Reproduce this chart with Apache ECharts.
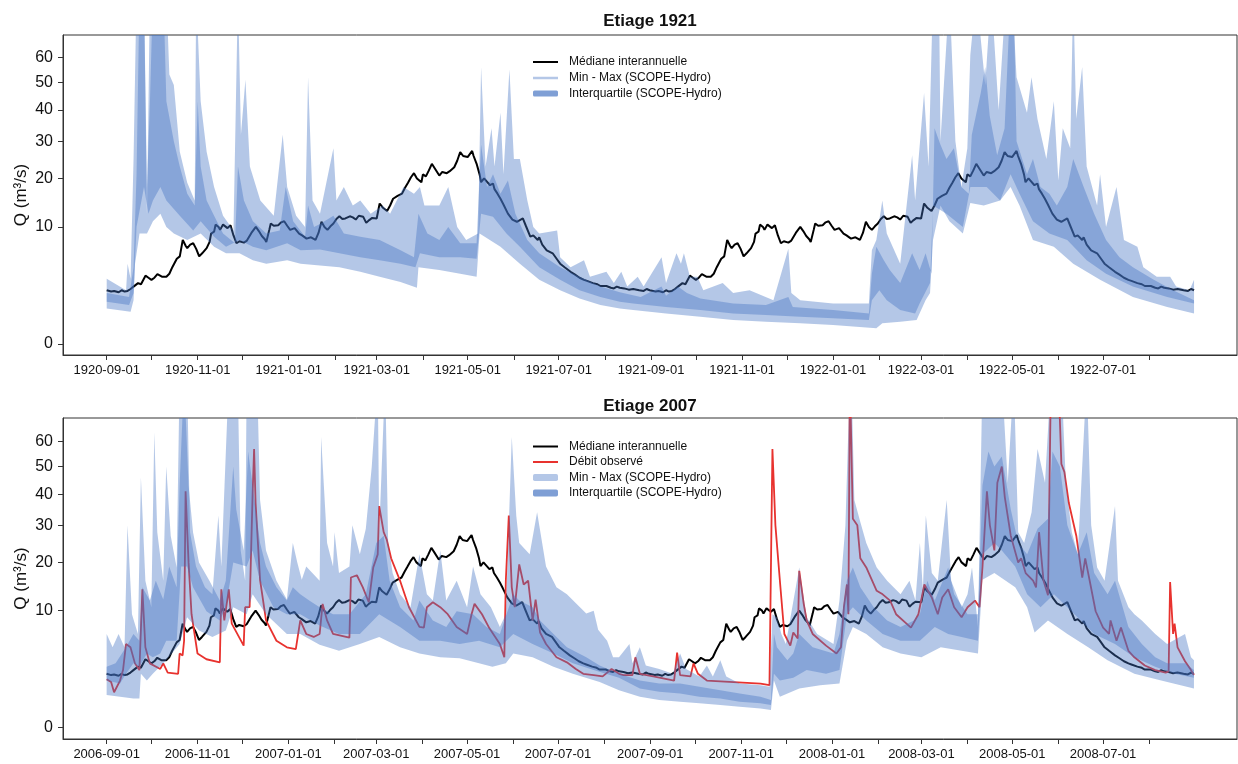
<!DOCTYPE html>
<html>
<head>
<meta charset="utf-8">
<script src="https://cdn.jsdelivr.net/npm/echarts@6/dist/echarts.min.js"></script>
<style>
html,body{margin:0;padding:0;background:#fff;}
#chart{width:1238px;height:764px;}
</style>
</head>
<body>
<div id="chart"></div>
<script>
// ---------------- DATA (day index from panel start date, value in m3/s) ----------------
const panelTitles = ['Etiage 1921', 'Etiage 2007'];
const panelStarts = ['1920-09-01', '2006-09-01'];
const xLabelsTop = ['1920-09-01','1920-11-01','1921-01-01','1921-03-01','1921-05-01','1921-07-01','1921-09-01','1921-11-01','1922-01-01','1922-03-01','1922-05-01','1922-07-01'];
const xLabelsBottom = ['2006-09-01','2006-11-01','2007-01-01','2007-03-01','2007-05-01','2007-07-01','2007-09-01','2007-11-01','2008-01-01','2008-03-01','2008-05-01','2008-07-01'];
const yTickValues = [0, 10, 20, 30, 40, 50, 60];

// Interannual median by day from 1 September (same for both panels)
const medianDOY = [[0,2.1],[3,2.0],[5,2.05],[8,1.95],[10,2.1],[12,2.0],[14,2.05],[16,2.2],[18,2.4],[21,2.7],[23,2.6],[26,3.4],[28,3.2],[30,3.0],[32,3.2],[34,3.55],[37,3.3],[40,3.3],[42,3.6],[44,4.3],[47,5.3],[49,5.6],[51,7.9],[53,7.0],[54,6.7],[56,7.2],[58,7.4],[60,6.6],[62,5.6],[64,6.0],[67,6.7],[69,7.6],[70,8.9],[72,9.2],[73,10.4],[75,10.0],[76,9.5],[78,10.4],[79,10.6],[81,9.8],[83,10.3],[85,8.6],[87,7.4],[89,7.7],[90,7.9],[92,7.5],[94,7.8],[97,9.0],[100,10.0],[102,9.3],[104,8.5],[106,8.0],[107,7.6],[109,9.5],[110,10.6],[112,10.2],[115,10.3],[117,10.8],[119,11.0],[121,10.2],[123,9.5],[126,9.8],[129,8.9],[131,8.6],[134,8.1],[137,8.3],[140,7.9],[142,9.0],[144,10.9],[146,10.0],[148,9.5],[150,10.1],[152,10.6],[154,11.4],[156,11.9],[158,11.4],[160,11.5],[163,11.9],[165,11.7],[167,11.3],[169,12.0],[172,11.8],[174,10.7],[176,11.2],[178,11.6],[181,11.5],[183,14.4],[185,13.6],[188,12.9],[190,14.0],[192,15.4],[195,16.0],[198,16.5],[200,17.8],[202,19.0],[204,20.3],[206,21.3],[208,20.0],[209,19.8],[211,19.1],[212,21.0],[214,20.5],[216,22.0],[218,23.7],[220,22.5],[223,20.7],[225,21.6],[228,21.3],[230,21.8],[233,22.8],[235,24.5],[237,26.9],[239,25.8],[240,26.3],[242,25.5],[245,27.2],[246,25.8],[248,23.7],[250,21.0],[251,19.1],[253,20.0],[254,19.6],[257,18.4],[259,18.8],[260,17.5],[262,16.5],[264,15.4],[266,14.2],[269,12.4],[272,11.3],[275,10.9],[277,11.2],[279,11.5],[281,10.2],[284,8.4],[286,8.6],[289,7.9],[290,8.3],[292,7.2],[295,6.4],[297,6.2],[299,6.0],[302,5.2],[304,4.7],[307,4.3],[311,3.8],[314,3.5],[317,3.2],[320,3.0],[322,2.9],[326,2.7],[329,2.6],[331,2.45],[335,2.45],[338,2.3],[340,2.25],[342,2.4],[344,2.3],[347,2.25],[350,2.15],[353,2.2],[357,2.1],[360,2.05],[362,2.2],[364,2.1]];

// Top panel (1920-09-01 .. 1922-08-31) SCOPE-Hydro envelope
const topMax = [[0,3.1],[13,2.1],[14,4.7],[16,3.1],[18,25],[20,90],[25,90],[27,12.4],[29,90],[40,90],[42,53],[45,49],[49,27],[54,19],[59,15],[60,90],[63,43],[67,27],[72,18],[78,12],[85,9.4],[88,90],[90,32],[93,51],[96,23],[103,15],[112,12],[118,32],[121,18],[127,12],[133,10],[135,52],[138,15],[143,12.4],[152,28],[154,15],[159,18],[165,14],[170,15],[177,12.4],[185,14],[190,12.4],[199,18],[206,16.5],[210,18],[213,14],[223,14],[229,18],[235,10],[241,7.9],[249,8.9],[251,56],[254,23],[258,34],[260,23],[264,39],[266,21],[270,55],[273,25],[277,25],[282,15],[286,10],[290,8.9],[302,9.4],[304,5.5],[311,4.3],[320,5.1],[324,3.3],[335,3.8],[340,2.7],[345,3.8],[349,2.4],[356,3.3],[360,2.4],[372,5.5],[375,2.7],[382,6.0],[385,4.7],[387,6.0],[391,3.3],[396,3.3],[400,2.1],[413,2.7],[420,1.9],[431,2.1],[447,1.4],[457,6.6],[459,1.9],[465,1.4],[487,1.2],[511,1.2],[513,6.4],[516,7.9],[520,15],[523,8.9],[532,4.7],[540,26],[542,15],[548,46],[551,23],[554,90],[558,90],[559,30],[565,90],[569,30],[573,18],[577,28],[579,61],[583,90],[589,49],[593,90],[598,40],[603,90],[607,90],[610,52],[617,39],[620,52],[624,37],[630,25],[635,43],[638,19.5],[641,34],[646,28],[648,90],[650,37],[654,56],[657,23],[664,14],[666,21],[670,10],[677,18],[682,7.9],[691,6.9],[695,4.3],[704,3.3],[713,3.3],[717,2.4],[726,2.1],[729,3.0]];
const topQ75 = [[0,1.9],[15,1.6],[18,4.3],[20,21],[22,90],[25,90],[27,18],[29,43],[31,90],[38,90],[40,43],[45,30],[49,23],[54,16.5],[59,14],[61,43],[63,23],[67,15],[72,12],[78,8.9],[86,7.4],[88,23],[92,15],[98,11],[107,8.9],[116,9.4],[120,18],[125,11],[133,8.4],[135,14],[139,10],[143,10.5],[152,12],[159,8.9],[170,8.4],[183,7.9],[197,6.4],[206,5.5],[209,12.4],[215,8.9],[223,7.9],[229,10],[237,7.4],[248,7.4],[251,29],[255,18],[259,21],[264,16.5],[269,19.5],[274,12.4],[282,7.9],[290,6.0],[304,4.3],[317,3.3],[331,2.4],[344,1.95],[358,1.6],[372,2.4],[375,1.7],[383,2.4],[389,1.9],[398,1.5],[420,1.2],[442,1.1],[457,1.6],[460,1.0],[487,0.84],[511,0.68],[513,3.6],[516,6.9],[521,5.1],[525,4.0],[532,2.7],[540,6.0],[545,4.0],[549,6.0],[553,3.6],[555,34],[559,29],[563,25],[568,28],[573,18],[578,16.5],[580,32],[586,46],[589,56],[592,38],[597,26],[602,34],[606,90],[608,90],[610,30],[617,21],[621,25],[626,18],[632,16.5],[637,14],[644,18],[648,25],[655,18],[662,12.4],[670,7.9],[679,5.5],[688,4.3],[702,3.0],[715,2.1],[729,1.4]];
const topQ25 = [[0,1.3],[15,1.1],[18,1.9],[20,10],[25,18],[28,12.4],[31,15],[36,18],[40,15],[49,12],[58,9.4],[63,11],[72,8.4],[80,6.9],[89,7.9],[98,6.9],[107,6.4],[121,7.4],[130,6.4],[143,6.5],[156,6.0],[170,5.5],[183,5.1],[197,4.7],[207,4.3],[210,6.0],[223,5.5],[237,5.5],[248,5.3],[251,12.4],[259,11.8],[268,8.9],[277,6.9],[290,4.3],[304,3.0],[317,2.1],[331,1.6],[344,1.3],[353,1.2],[375,1.0],[398,0.84],[420,0.68],[442,0.61],[465,0.54],[487,0.48],[511,0.42],[513,1.4],[518,2.1],[523,1.4],[532,0.84],[542,0.68],[545,1.2],[552,2.7],[554,14],[563,12.4],[574,10],[579,18],[590,18],[599,15],[606,21],[612,16.5],[621,11],[632,8.9],[644,7.9],[657,5.1],[670,3.6],[688,2.4],[711,1.6],[729,1.2]];
const topMin = [[0,0.92],[16,0.76],[18,1.4],[19,4.7],[22,8.9],[27,8.9],[31,11],[36,12.4],[40,10],[45,8.9],[54,7.9],[63,8.9],[72,6.9],[80,6.0],[89,6.0],[98,5.1],[107,4.7],[121,5.1],[130,4.7],[143,4.5],[156,4.3],[170,3.8],[183,3.3],[197,2.8],[208,2.3],[209,4.3],[223,4.0],[237,3.6],[248,3.3],[250,8.9],[264,6.9],[277,4.7],[290,3.0],[304,2.1],[317,1.5],[331,1.1],[344,0.92],[353,0.84],[375,0.68],[398,0.54],[420,0.42],[442,0.36],[465,0.31],[487,0.26],[516,0.18],[520,0.31],[532,0.36],[543,0.42],[549,1.4],[552,1.9],[554,7.9],[559,14],[565,11],[574,8.9],[579,14.5],[588,14],[599,15],[606,18],[612,14],[621,7.9],[635,6.9],[648,4.7],[666,3.0],[688,1.6],[711,1.0],[729,0.68]];

// Bottom panel (2006-09-01 .. 2008-08-31)
const botObserved = [[0,1.7],[3,1.5],[5,0.9],[9,1.6],[11,2.4],[13,5.1],[16,4.7],[19,3.0],[22,2.4],[24,14],[26,4.7],[29,3.0],[36,2.5],[38,3.0],[41,2.2],[48,2.1],[49,4.0],[51,3.8],[52,5.5],[53,41],[55,20],[57,9.4],[61,4.0],[67,3.4],[76,3.1],[77,14],[79,8.4],[82,14],[84,7.9],[92,4.9],[93,10.6],[96,10.6],[98,40],[99,57],[100,37],[103,16],[107,8.4],[114,5.5],[121,4.7],[127,4.5],[130,8.4],[134,6.4],[139,6.0],[143,6.4],[145,11.2],[148,8.4],[152,6.4],[163,5.9],[164,16.5],[168,17],[172,14.4],[176,11.5],[177,11.5],[179,18.8],[182,22],[183,36],[186,28],[188,26],[191,21],[197,15.8],[203,10.6],[210,7.4],[213,7.3],[215,10.6],[219,11.5],[224,10.6],[229,9.4],[235,7.4],[242,6.4],[245,9.4],[247,11.2],[252,9.4],[257,7.2],[264,5.1],[267,3.6],[268,15.8],[270,33],[272,14.4],[274,10.6],[277,19.5],[280,15],[283,15.8],[286,8.4],[288,12],[291,6.6],[295,5.1],[302,3.6],[309,3.1],[315,2.5],[320,2.1],[327,2.0],[333,1.9],[339,2.5],[344,2.1],[347,2.0],[353,2.0],[355,3.6],[358,2.1],[367,1.9],[381,1.6],[383,4.1],[385,2.0],[392,1.9],[394,3.0],[397,2.1],[403,1.6],[421,1.5],[439,1.4],[445,1.3],[447,57],[449,30],[452,15.8],[455,6.4],[459,4.9],[461,6.6],[464,5.8],[465,18],[468,11.2],[470,8.4],[474,6.4],[483,4.9],[490,4.0],[493,4.7],[495,10.6],[497,15],[498,9.4],[499,90],[500,90],[501,32],[504,30],[506,21],[510,18.8],[517,13.7],[521,13],[526,11.8],[530,9.4],[537,7.9],[540,7.3],[545,9.4],[549,15],[554,12.4],[558,9.4],[561,12.4],[565,14],[569,10.6],[574,8.9],[578,10.6],[583,11.8],[586,10.6],[588,18.8],[591,41],[593,30],[596,23],[598,44],[601,50],[603,39],[607,27],[612,20],[614,21],[617,17.5],[622,15.8],[624,14.4],[626,28],[629,15.8],[632,12.8],[634,90],[639,90],[641,51],[643,48],[646,37],[651,27],[655,16.5],[657,21],[660,15.8],[664,9.9],[669,7.3],[673,6.4],[674,8.4],[678,5.5],[681,7.3],[686,4.3],[690,3.6],[697,2.8],[704,2.4],[711,2.2],[713,2.3],[714,15.5],[716,6.4],[717,7.9],[719,4.7],[724,3.2],[728,2.4],[730,2.0]];
const botMax = [[0,6.4],[4,4.7],[8,6.4],[12,4.7],[14,30],[17,9.4],[21,6.4],[23,46],[26,15.8],[30,10.6],[32,64],[34,28],[38,15.8],[40,50],[43,27],[47,18.8],[49,90],[54,90],[56,28],[60,19],[66,14.4],[71,13],[75,33],[77,19],[82,90],[88,90],[90,23],[93,15.8],[94,90],[101,90],[103,38],[107,23],[114,15.8],[121,12],[125,25],[128,20],[131,16],[134,19],[143,15.8],[144,62],[148,25],[152,19],[153,28],[156,17.5],[163,19],[165,30],[170,22],[174,29],[178,50],[182,90],[183,28],[187,90],[189,25],[192,17.5],[197,13],[204,10.6],[210,22],[215,13],[219,11.8],[224,23],[228,11.8],[235,15.8],[242,10.6],[246,19],[251,13],[258,10.6],[264,7.4],[268,9.4],[272,62],[275,33],[277,25],[284,22],[289,34],[295,19],[302,14.4],[309,13],[322,9.5],[327,10],[330,7],[336,5.5],[340,3.6],[344,3.6],[351,5.1],[353,3.0],[358,4.7],[362,2.8],[371,2.5],[380,2.1],[385,4.0],[389,2.5],[398,1.9],[403,2.8],[407,1.9],[412,3.3],[416,1.9],[425,1.4],[439,1.3],[445,1.2],[447,9.4],[450,8.9],[453,6.4],[456,5.1],[465,18.8],[470,8.9],[477,6.4],[488,5.1],[492,11.8],[496,30],[499,90],[500,90],[502,38],[506,31],[510,25],[517,18.8],[524,15.8],[533,13],[539,15.8],[543,11.8],[546,25],[548,14],[550,33],[554,17.5],[558,15.8],[564,38],[567,15.8],[574,10.6],[578,13],[581,18.8],[585,7.4],[588,90],[601,90],[605,44],[609,90],[612,28],[616,25],[621,34],[625,57],[630,44],[634,90],[641,90],[644,44],[648,28],[652,22],[658,90],[661,30],[665,18.8],[670,15.8],[677,36],[679,15.8],[686,10.6],[690,9.4],[695,8.4],[704,6.4],[712,5.1],[724,6.4],[728,3.6],[730,3.3]];
const botQ75 = [[0,2.7],[6,3.0],[13,4.7],[18,6.4],[22,5.5],[24,14.4],[29,11.8],[33,15.8],[38,12],[42,19],[47,14.4],[49,43],[52,90],[55,43],[58,28],[62,20],[69,15.8],[76,11.8],[80,15.8],[85,50],[87,35],[92,23],[95,56],[98,43],[103,25],[107,19],[114,14.4],[121,11.8],[125,14.4],[130,13],[136,11.8],[143,10.6],[152,9.4],[163,9.4],[174,13],[181,25],[186,27],[190,15.8],[197,10.6],[206,8.4],[210,11.8],[219,8.4],[228,7.4],[235,9.9],[246,9.4],[255,7.4],[264,6.4],[273,13],[277,11.8],[286,10.6],[291,8.4],[300,6.4],[309,4.7],[322,3.6],[331,2.8],[344,2.1],[358,1.6],[371,1.4],[385,1.4],[398,1.2],[412,1.0],[425,0.84],[439,0.68],[446,0.54],[448,6.4],[450,4.7],[457,3.3],[461,4.0],[465,6.4],[474,4.7],[488,4.0],[492,6.4],[497,15.8],[501,18.8],[506,14.4],[515,10.6],[524,8.4],[533,7.4],[542,8.4],[546,9.4],[551,15.8],[556,11.8],[565,18.8],[569,13],[578,9.4],[585,9.4],[588,43],[592,56],[596,50],[601,54],[607,35],[612,25],[618,22],[625,29],[632,32],[635,56],[640,50],[645,30],[652,22],[658,28],[663,17.5],[672,13],[677,15.8],[686,7.4],[695,5.1],[704,3.6],[712,3.0],[724,3.0],[730,2.4]];
const botQ25 = [[0,1.6],[9,1.4],[13,2.1],[18,3.0],[22,2.7],[27,4.0],[31,3.6],[36,4.0],[40,5.5],[47,5.5],[50,19],[54,19],[58,14.4],[67,9.9],[76,8.4],[80,10.6],[85,20],[94,19],[98,23],[103,15.8],[112,10.6],[121,9.4],[130,9.4],[143,7.6],[156,6.4],[170,6.4],[183,9.4],[197,7.4],[210,5.5],[224,5.5],[237,5.1],[250,5.5],[264,4.7],[273,6.4],[286,5.1],[300,4.0],[313,3.0],[327,2.4],[344,1.8],[358,1.1],[371,0.92],[385,0.84],[398,0.68],[412,0.61],[425,0.48],[439,0.42],[446,0.36],[448,2.1],[452,1.6],[461,1.8],[470,2.4],[483,2.1],[492,2.4],[497,9.4],[501,10.6],[510,8.4],[521,6.4],[533,5.5],[546,5.5],[556,7.4],[565,6.4],[574,6.0],[585,5.5],[588,22],[596,25],[601,23],[610,19],[618,13],[627,10.6],[636,13],[645,10.6],[654,8.4],[663,6.4],[677,5.1],[690,3.6],[704,2.7],[717,2.1],[730,1.8]];
const botMin = [[0,0.76],[18,0.61],[22,0.61],[23,2.1],[27,1.6],[31,2.1],[40,3.3],[49,5.1],[54,8.9],[62,6.9],[71,6.0],[80,6.9],[85,10.6],[94,9.4],[98,13],[107,9.4],[121,6.4],[130,6.4],[143,5.0],[156,4.3],[170,5.1],[183,6.0],[197,4.7],[210,4.0],[224,3.6],[237,3.5],[250,3.0],[259,2.7],[268,3.0],[273,4.0],[286,3.6],[300,2.7],[313,2.1],[331,1.5],[344,1.0],[358,0.68],[371,0.54],[385,0.48],[398,0.42],[412,0.36],[425,0.31],[439,0.26],[446,0.22],[448,1.6],[452,0.68],[465,1.1],[479,1.3],[492,1.4],[497,5.5],[501,7.4],[510,6.4],[521,4.7],[533,4.0],[547,3.6],[560,4.7],[574,4.3],[585,4.0],[588,16],[596,17.5],[610,14.4],[618,10.6],[623,6.6],[632,8.4],[645,6.4],[659,4.7],[672,3.3],[690,2.1],[708,1.6],[730,1.1]];

// ---------------- CHART ----------------
const FONT = "'Liberation Sans', Arial, Helvetica, sans-serif";
const BAND = 'rgba(68,114,196,0.40)';
const LEG_LIGHT = '#B4C7E7';
const LEG_DARK = '#7F9FD5';
const RED = '#E8322E';
const AXIS = '#333333';
const sq = v => Math.sqrt(v);
const DAY = 86400000;
const dayIndex = (start, s) => Math.round((Date.parse(s) - Date.parse(start)) / DAY);

function monthTicks(start) {
  const d0 = new Date(start + 'T00:00:00Z');
  const out = [];
  for (let m = 0; m < 24; m++) {
    const t = Date.UTC(d0.getUTCFullYear(), d0.getUTCMonth() + m, 1);
    out.push(Math.round((t - d0.getTime()) / DAY));
  }
  return out;
}

function medianSeries(start, idx) {
  const out = [];
  const leapShift = dayIndex(start, (Number(start.slice(0,4)) + 2) + '-03-01') - 546; // 0 or 1
  for (let y = 0; y < 2; y++) {
    medianDOY.forEach(p => {
      let d = p[0] + 365 * y;
      if (y === 1 && p[0] >= 181) d += leapShift;
      out.push([d, sq(p[1])]);
    });
  }
  return {
    type: 'line', name: 'Médiane interannuelle', xAxisIndex: idx, yAxisIndex: idx,
    data: out, symbol: 'none', showSymbol: false, silent: true,
    lineStyle: { color: '#000', width: 2 }, itemStyle: { color: '#000' }, z: 2
  };
}

function bandSeries(name, upper, lower, idx) {
  return {
    type: 'custom', name, xAxisIndex: idx, yAxisIndex: idx, coordinateSystem: 'cartesian2d',
    clip: true, silent: true, data: [[0, 0]], z: 3,
    itemStyle: { color: BAND },
    renderItem: function (params, api) {
      const pts = upper.map(p => api.coord([p[0], sq(p[1])]));
      for (let i = lower.length - 1; i >= 0; i--) pts.push(api.coord([lower[i][0], sq(lower[i][1])]));
      return { type: 'polygon', shape: { points: pts }, style: { fill: BAND, stroke: null } };
    }
  };
}

function xAxisFor(idx, start, labels, min, max) {
  const labelIdx = labels.map(s => dayIndex(start, s));
  const map = {};
  labelIdx.forEach((d, i) => { map[d] = labels[i]; });
  return {
    type: 'value', gridIndex: idx, min, max,
    axisLine: { show: true, onZero: false, lineStyle: { color: AXIS, width: 1 } },
    axisTick: { show: true, inside: false, length: 5, customValues: monthTicks(start), lineStyle: { color: AXIS } },
    axisLabel: { customValues: labelIdx, formatter: v => map[Math.round(v)] || '', fontSize: 13, color: '#111', fontFamily: FONT, margin: 9 },
    splitLine: { show: false }
  };
}

function yAxisFor(idx, min, max) {
  const pos = yTickValues.map(sq);
  return {
    type: 'value', gridIndex: idx, min, max,
    name: 'Q (m³/s)', nameLocation: 'middle', nameGap: 33, nameMoveOverlap: false,
    nameTextStyle: { fontSize: 17, color: '#111', fontFamily: FONT },
    axisLine: { show: true, onZero: false, lineStyle: { color: AXIS, width: 1 } },
    axisTick: { show: true, inside: false, length: 5, customValues: pos, lineStyle: { color: AXIS } },
    axisLabel: { customValues: pos, formatter: v => String(Math.round(v * v)), fontSize: 16, color: '#111', fontFamily: FONT, margin: 10 },
    splitLine: { show: false }
  };
}

function legendItem(name, top, h, icon, color) {
  return {
    left: 533, top, padding: 0, orient: 'vertical', selectedMode: false,
    itemWidth: 25, itemHeight: h,
    textStyle: { fontSize: 12, color: '#111', fontFamily: FONT, padding: [0, 0, 0, 6] },
    itemStyle: { borderWidth: 0 },
    data: [{ name, icon, itemStyle: { color, borderWidth: 0 } }]
  };
}

const chart = echarts.init(document.getElementById('chart'), null, { renderer: 'canvas' });
chart.setOption({
  animation: false,
  backgroundColor: '#fff',
  title: [
    { text: panelTitles[0], left: 650, top: 12.5, textAlign: 'center', padding: 0, textStyle: { fontSize: 17, fontWeight: 'bold', color: '#111', fontFamily: FONT } },
    { text: panelTitles[1], left: 650, top: 397.5, textAlign: 'center', padding: 0, textStyle: { fontSize: 17, fontWeight: 'bold', color: '#111', fontFamily: FONT } }
  ],
  legend: [
    legendItem('Médiane interannuelle', 56, 2, 'rect', '#000'),
    legendItem('Min - Max (SCOPE-Hydro)', 72, 2.5, 'rect', LEG_LIGHT),
    legendItem('Interquartile (SCOPE-Hydro)', 87.5, 6, 'roundRect', LEG_DARK),
    legendItem('Médiane interannuelle', 440.5, 2, 'rect', '#000'),
    legendItem('Débit observé', 456, 2, 'rect', RED),
    legendItem('Min - Max (SCOPE-Hydro)', 471.5, 7, 'roundRect', LEG_LIGHT),
    legendItem('Interquartile (SCOPE-Hydro)', 487, 7, 'roundRect', LEG_DARK)
  ],
  grid: [
    { left: 63, right: 1, top: 35, height: 320, show: true, borderColor: AXIS, borderWidth: 1, backgroundColor: 'transparent' },
    { left: 63, right: 1, top: 418, height: 321, show: true, borderColor: AXIS, borderWidth: 1, backgroundColor: 'transparent' }
  ],
  xAxis: [
    xAxisFor(0, panelStarts[0], xLabelsTop, -29.3, 757.8),
    xAxisFor(1, panelStarts[1], xLabelsBottom, -29.3, 758.9)
  ],
  yAxis: [
    yAxisFor(0, -0.30, 8.35),
    yAxisFor(1, -0.32, 8.39)
  ],
  series: [
    medianSeries(panelStarts[0], 0),
    bandSeries('Min - Max (SCOPE-Hydro)', topMax, topMin, 0),
    bandSeries('Interquartile (SCOPE-Hydro)', topQ75, topQ25, 0),
    medianSeries(panelStarts[1], 1),
    {
      type: 'line', name: 'Débit observé', xAxisIndex: 1, yAxisIndex: 1,
      data: botObserved.map(p => [p[0], sq(p[1])]), symbol: 'none', showSymbol: false, silent: true,
      lineStyle: { color: RED, width: 1.8 }, itemStyle: { color: RED }, z: 2
    },
    bandSeries('Min - Max (SCOPE-Hydro)', botMax, botMin, 1),
    bandSeries('Interquartile (SCOPE-Hydro)', botQ75, botQ25, 1)
  ]
});
</script>
</body>
</html>
